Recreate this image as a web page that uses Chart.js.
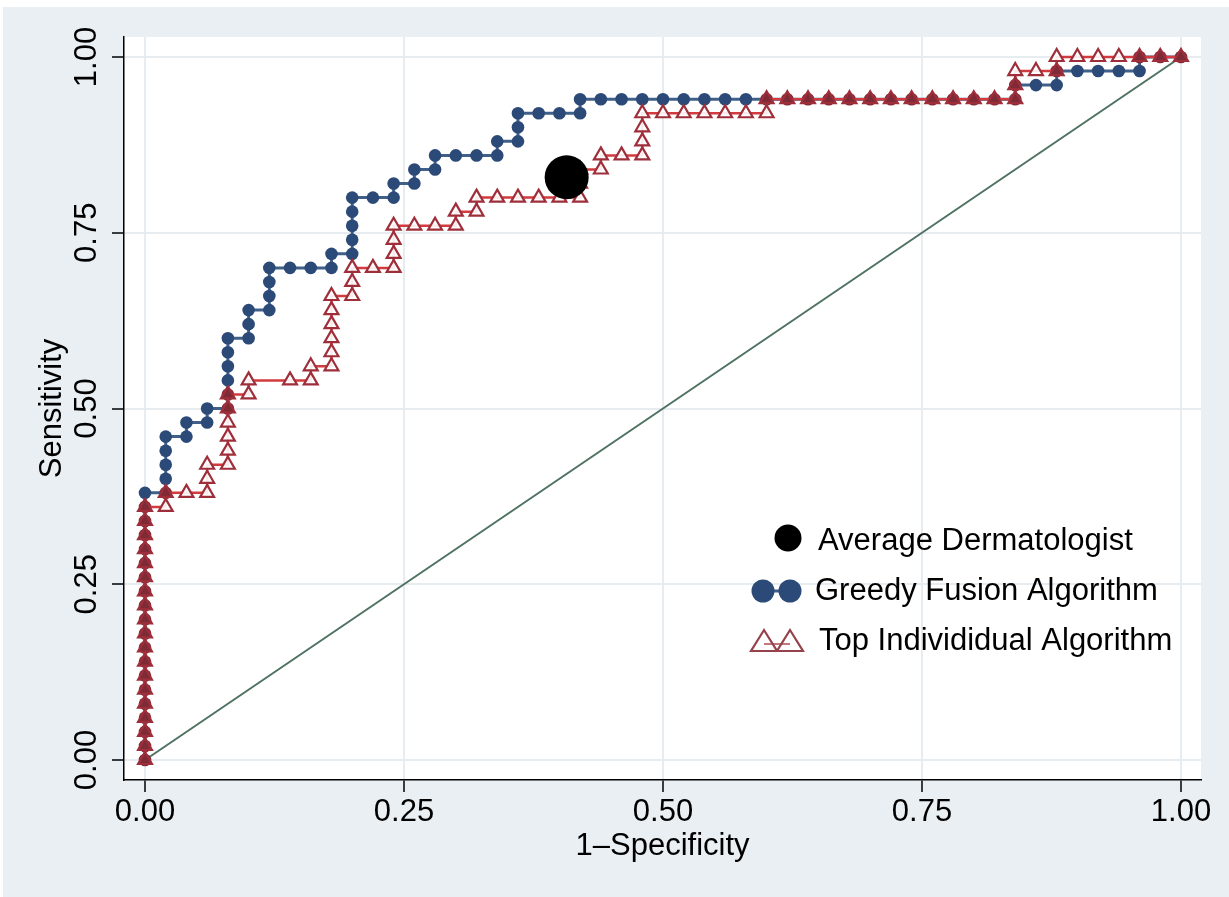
<!DOCTYPE html>
<html>
<head>
<meta charset="utf-8">
<script src="https://cdn.jsdelivr.net/npm/chart.js@4/dist/chart.umd.min.js"></script>
<style>
html,body{margin:0;padding:0;background:#fff;}
#wrap{width:1229px;height:897px;position:relative;}
</style>
</head>
<body>
<div id="wrap"><canvas id="c" width="1229" height="897"></canvas></div>
<script>
// ---- data ----
const seriesNames = ['Average Dermatologist', 'Greedy Fusion Algorithm', 'Top Individidual Algorithm'];
const xTicks = [0, 0.25, 0.5, 0.75, 1];
const xTickLabels = ['0.00', '0.25', '0.50', '0.75', '1.00'];
const yTicks = [0, 0.25, 0.5, 0.75, 1];
const yTickLabels = ['0.00', '0.25', '0.50', '0.75', '1.00'];
const xTitle = '1\u2013Specificity';
const yTitle = 'Sensitivity';

const dermX = [0.407];
const dermY = [0.829];

const diagX = [0, 1];
const diagY = [0, 1];

const greedyX = [
  0,0,0,0,0,0,0,0,0,0,0,0,0,0,0,0,0,0,0,0,
  0.02,0.02,0.02,0.02,0.02,
  0.04,0.04,
  0.06,0.06,
  0.08,0.08,0.08,0.08,0.08,0.08,
  0.10,0.10,0.10,
  0.12,0.12,0.12,0.12,
  0.14,0.16,0.18,0.18,
  0.20,0.20,0.20,0.20,0.20,
  0.22,0.24,0.24,
  0.26,0.26,
  0.28,0.28,
  0.30,0.32,0.34,0.34,
  0.36,0.36,0.36,
  0.38,0.40,0.42,0.42,
  0.44,0.46,0.48,0.50,0.52,0.54,0.56,0.58,0.60,0.62,0.64,0.66,0.68,0.70,0.72,0.74,0.76,0.78,0.80,0.82,
  0.84,0.84,
  0.86,0.88,0.88,
  0.90,0.92,0.94,0.96,0.96,
  0.98,1.00
];
const greedyY = [
  0,0.02,0.04,0.06,0.08,0.10,0.12,0.14,0.16,0.18,0.20,0.22,0.24,0.26,0.28,0.30,0.32,0.34,0.36,0.38,
  0.38,0.40,0.42,0.44,0.46,
  0.46,0.48,
  0.48,0.50,
  0.50,0.52,0.54,0.56,0.58,0.60,
  0.60,0.62,0.64,
  0.64,0.66,0.68,0.70,
  0.70,0.70,0.70,0.72,
  0.72,0.74,0.76,0.78,0.80,
  0.80,0.80,0.82,
  0.82,0.84,
  0.84,0.86,
  0.86,0.86,0.86,0.88,
  0.88,0.90,0.92,
  0.92,0.92,0.92,0.94,
  0.94,0.94,0.94,0.94,0.94,0.94,0.94,0.94,0.94,0.94,0.94,0.94,0.94,0.94,0.94,0.94,0.94,0.94,0.94,0.94,
  0.94,0.96,
  0.96,0.96,0.98,
  0.98,0.98,0.98,0.98,1.00,
  1.00,1.00
];

const topX = [
  0,0,0,0,0,0,0,0,0,0,0,0,0,0,0,0,0,0,0,
  0.02,0.02,
  0.04,
  0.06,0.06,0.06,
  0.08,0.08,0.08,0.08,0.08,0.08,
  0.10,0.10,
  0.14,
  0.16,0.16,
  0.18,0.18,0.18,0.18,0.18,0.18,
  0.20,0.20,0.20,
  0.22,
  0.24,0.24,0.24,0.24,
  0.26,0.28,0.30,0.30,
  0.32,0.32,
  0.34,0.36,0.38,0.40,
  0.42,0.42,0.42,
  0.44,0.44,
  0.46,
  0.48,0.48,0.48,0.48,
  0.50,0.52,0.54,0.56,0.58,
  0.60,0.60,
  0.62,0.64,0.66,0.68,0.70,0.72,0.74,0.76,0.78,0.80,0.82,
  0.84,0.84,0.84,
  0.86,
  0.88,0.88,
  0.90,0.92,0.94,0.96,0.98,1.00
];
const topY = [
  0,0.02,0.04,0.06,0.08,0.10,0.12,0.14,0.16,0.18,0.20,0.22,0.24,0.26,0.28,0.30,0.32,0.34,0.36,
  0.36,0.38,
  0.38,
  0.38,0.40,0.42,
  0.42,0.44,0.46,0.48,0.50,0.52,
  0.52,0.54,
  0.54,
  0.54,0.56,
  0.56,0.58,0.60,0.62,0.64,0.66,
  0.66,0.68,0.70,
  0.70,
  0.70,0.72,0.74,0.76,
  0.76,0.76,0.76,0.78,
  0.78,0.80,
  0.80,0.80,0.80,0.80,
  0.80,0.82,0.84,
  0.84,0.86,
  0.86,
  0.86,0.88,0.90,0.92,
  0.92,0.92,0.92,0.92,0.92,
  0.92,0.94,
  0.94,0.94,0.94,0.94,0.94,0.94,0.94,0.94,0.94,0.94,0.94,
  0.94,0.96,0.98,
  0.98,
  0.98,1.00,
  1.00,1.00,1.00,1.00,1.00,1.00
];

// ---- build library structures ----
const toPts = (xs, ys) => xs.map((x, i) => ({x: x, y: ys[i]}));
const key = (x, y) => Math.round(x * 100) + ',' + Math.round(y * 100);
const greedyKeys = new Set(greedyX.map((x, i) => key(x, greedyY[i])));
const topKeys = new Set(topX.map((x, i) => key(x, topY[i])));

const BLUE = '#2c4a77';
const BLUE_LINE = '#40608a';
const RED_LINE = '#d23b3f';
const RED_MARK = '#9e2f3a';
const OVERLAP = '#7e2a37';
const FONT = '"Liberation Sans", Arial, Helvetica, sans-serif';

const bgPlugin = {
  id: 'bg',
  beforeDraw(chart) {
    const {ctx, chartArea: ca} = chart;
    ctx.save();
    ctx.fillStyle = '#ffffff';
    ctx.fillRect(0, 0, chart.width, chart.height);
    ctx.fillStyle = '#eaeff3';
    ctx.fillRect(3, 7, chart.width - 3, chart.height - 7);
    ctx.fillStyle = '#ffffff';
    ctx.fillRect(ca.left, ca.top, ca.right - ca.left, ca.bottom - ca.top);
    ctx.restore();
  }
};

const legendPlugin = {
  id: 'stataLegend',
  afterDraw(chart) {
    const ctx = chart.ctx;
    ctx.save();
    ctx.font = '31px ' + FONT;
    ctx.textBaseline = 'alphabetic';
    ctx.textAlign = 'left';
    // item 1
    ctx.fillStyle = '#000';
    ctx.beginPath();
    ctx.arc(788, 538, 13.5, 0, Math.PI * 2);
    ctx.fill();
    ctx.fillText(seriesNames[0], 818, 550);
    // item 2
    ctx.strokeStyle = BLUE_LINE;
    ctx.lineWidth = 3;
    ctx.beginPath(); ctx.moveTo(763, 591); ctx.lineTo(790, 591); ctx.stroke();
    ctx.fillStyle = BLUE;
    [763, 790].forEach(cx => { ctx.beginPath(); ctx.arc(cx, 591, 11.5, 0, Math.PI * 2); ctx.fill(); });
    ctx.fillStyle = '#000';
    ctx.fillText(seriesNames[1], 815, 600);
    // item 3
    ctx.strokeStyle = '#b24a55';
    ctx.lineWidth = 1.5;
    ctx.beginPath(); ctx.moveTo(764, 644); ctx.lineTo(790, 644); ctx.stroke();
    ctx.strokeStyle = '#95424b';
    ctx.lineWidth = 2.2;
    [764, 790].forEach(cx => {
      ctx.beginPath();
      ctx.moveTo(cx, 630); ctx.lineTo(cx + 13, 651); ctx.lineTo(cx - 13, 651); ctx.closePath();
      ctx.stroke();
    });
    ctx.fillStyle = '#000';
    ctx.fillText(seriesNames[2], 819, 650);
    ctx.restore();
  }
};

const tickFont = {family: FONT, size: 31};

new Chart(document.getElementById('c'), {
  type: 'scatter',
  data: {
    datasets: [
      {
        label: seriesNames[0],
        data: toPts(dermX, dermY),
        showLine: false,
        pointRadius: 22,
        pointHoverRadius: 22,
        pointBackgroundColor: '#000',
        pointBorderColor: '#000',
        pointBorderWidth: 0
      },
      {
        label: seriesNames[2],
        data: toPts(topX, topY),
        showLine: true,
        borderColor: RED_LINE,
        borderWidth: 2.5,
        pointStyle: 'triangle',
        pointRadius: 8,
        pointBorderWidth: 2.2,
        pointBorderColor: RED_MARK,
        pointBackgroundColor: c => {
          const p = c.raw;
          return (p && greedyKeys.has(key(p.x, p.y))) ? OVERLAP : 'rgba(255,255,255,0.9)';
        }
      },
      {
        label: seriesNames[1],
        data: toPts(greedyX, greedyY),
        showLine: true,
        borderColor: BLUE_LINE,
        borderWidth: 3,
        pointStyle: 'circle',
        pointRadius: 6.3,
        pointBorderWidth: 0,
        pointBackgroundColor: c => {
          const p = c.raw;
          return (p && topKeys.has(key(p.x, p.y))) ? OVERLAP : BLUE;
        },
        pointBorderColor: BLUE
      },
      {
        label: 'reference',
        data: toPts(diagX, diagY),
        showLine: true,
        borderColor: '#4f7262',
        borderWidth: 2,
        pointRadius: 0
      }
    ]
  },
  options: {
    responsive: false,
    animation: false,
    devicePixelRatio: 1,
    layout: {padding: {left: 0, top: 37, right: 28, bottom: 0}},
    plugins: {legend: {display: false}, tooltip: {enabled: false}},
    scales: {
      x: {
        type: 'linear',
        position: 'bottom',
        min: -0.02027,
        max: 1.0193,
        afterBuildTicks: s => { s.ticks = xTicks.map(v => ({value: v})); },
        afterFit: s => { s.height = 117; },
        ticks: {
          callback: (v, i) => xTickLabels[i],
          font: tickFont,
          color: '#000',
          padding: 2,
          maxRotation: 0,
          minRotation: 0,
          autoSkip: false
        },
        grid: {color: '#e7ecf0', lineWidth: 2, tickColor: '#000', tickLength: 12, tickWidth: 1.5},
        border: {display: true, color: '#000', width: 1.5},
        title: {display: true, text: xTitle, font: tickFont, color: '#000', padding: {top: 0, bottom: 32}}
      },
      y: {
        type: 'linear',
        position: 'left',
        min: -0.02845,
        max: 1.02845,
        afterBuildTicks: s => { s.ticks = yTicks.map(v => ({value: v})); },
        afterFit: s => { s.width = 124; },
        ticks: {
          callback: (v, i) => yTickLabels[i],
          font: tickFont,
          color: '#000',
          padding: -6,
          minRotation: 90,
          maxRotation: 90,
          crossAlign: 'center',
          autoSkip: false
        },
        grid: {color: '#e7ecf0', lineWidth: 2, tickColor: '#000', tickLength: 12, tickWidth: 1.5},
        border: {display: true, color: '#000', width: 1.5},
        title: {display: true, text: yTitle, font: tickFont, color: '#000', padding: {top: 34, bottom: 0}}
      }
    }
  },
  plugins: [bgPlugin, legendPlugin]
});
</script>
</body>
</html>
